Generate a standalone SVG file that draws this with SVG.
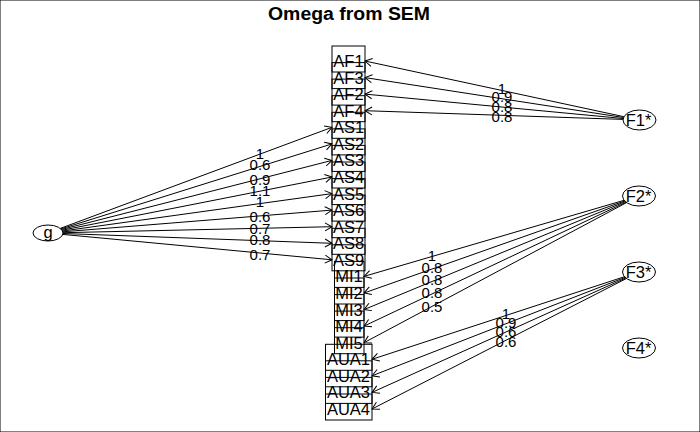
<svg xmlns="http://www.w3.org/2000/svg" width="700" height="432" viewBox="0 0 700 432">
<style>
text{font-family:"Liberation Sans",Arial,sans-serif;fill:#000}
.t{font-size:18px;font-weight:bold}
.n{font-size:16.5px;text-anchor:middle}
.l{font-size:15px;text-anchor:middle}
rect,ellipse{fill:none;stroke:#000;stroke-width:1}
line{stroke:#000;stroke-width:1;marker-end:url(#a)}
</style>
<defs>
<marker id="a" markerUnits="userSpaceOnUse" markerWidth="10" markerHeight="10" viewBox="0 0 10 10" refX="8" refY="5" orient="auto">
<path d="M1,1 L8,5 L1,9" fill="none" stroke="#000" stroke-width="1"/>
</marker>
</defs>
<rect x="0" y="0" width="700" height="432" fill="#fff" stroke="none"/>
<text class="t" x="349" y="19.5" text-anchor="middle" textLength="162" lengthAdjust="spacingAndGlyphs">Omega from SEM</text>

<g id="AF1"><rect x="332" y="46" width="33" height="26"/><text class="n" x="348.5" y="67">AF1</text></g>
<g id="AF3"><rect x="332" y="62.6" width="33" height="26"/><text class="n" x="348.5" y="83.6">AF3</text></g>
<g id="AF2"><rect x="332" y="79.1" width="33" height="26"/><text class="n" x="348.5" y="100.1">AF2</text></g>
<g id="AF4"><rect x="332" y="95.7" width="33" height="26"/><text class="n" x="348.5" y="116.7">AF4</text></g>
<g id="AS1"><rect x="332" y="112.3" width="33" height="26"/><text class="n" x="348.5" y="133.3">AS1</text></g>
<g id="AS2"><rect x="332" y="128.9" width="33" height="26"/><text class="n" x="348.5" y="149.9">AS2</text></g>
<g id="AS3"><rect x="332" y="145.4" width="33" height="26"/><text class="n" x="348.5" y="166.4">AS3</text></g>
<g id="AS4"><rect x="332" y="162" width="33" height="26"/><text class="n" x="348.5" y="183">AS4</text></g>
<g id="AS5"><rect x="332" y="178.6" width="33" height="26"/><text class="n" x="348.5" y="199.6">AS5</text></g>
<g id="AS6"><rect x="332" y="195.1" width="33" height="26"/><text class="n" x="348.5" y="216.1">AS6</text></g>
<g id="AS7"><rect x="332" y="211.7" width="33" height="26"/><text class="n" x="348.5" y="232.7">AS7</text></g>
<g id="AS8"><rect x="332" y="228.3" width="33" height="26"/><text class="n" x="348.5" y="249.3">AS8</text></g>
<g id="AS9"><rect x="332" y="244.8" width="33" height="26"/><text class="n" x="348.5" y="265.8">AS9</text></g>
<g id="MI1"><rect x="334.5" y="261.4" width="29.5" height="26"/><text class="n" x="349" y="282.4">MI1</text></g>
<g id="MI2"><rect x="334.5" y="278" width="29.5" height="26"/><text class="n" x="349" y="299">MI2</text></g>
<g id="MI3"><rect x="334.5" y="294.6" width="29.5" height="26"/><text class="n" x="349" y="315.6">MI3</text></g>
<g id="MI4"><rect x="334.5" y="311.1" width="29.5" height="26"/><text class="n" x="349" y="332.1">MI4</text></g>
<g id="MI5"><rect x="334.5" y="327.7" width="29.5" height="26"/><text class="n" x="349" y="348.7">MI5</text></g>
<g id="AUA1"><rect x="325.5" y="344.3" width="46.5" height="26"/><text class="n" x="348.5" y="365.3">AUA1</text></g>
<g id="AUA2"><rect x="325.5" y="360.8" width="46.5" height="26"/><text class="n" x="348.5" y="381.8">AUA2</text></g>
<g id="AUA3"><rect x="325.5" y="377.4" width="46.5" height="26"/><text class="n" x="348.5" y="398.4">AUA3</text></g>
<g id="AUA4"><rect x="325.5" y="394" width="46.5" height="26"/><text class="n" x="348.5" y="415">AUA4</text></g>

<g id="g"><ellipse cx="48" cy="233" rx="15" ry="8"/><text class="n" x="48" y="237.5">g</text></g>
<g id="F1"><ellipse cx="639.5" cy="120" rx="16.5" ry="10"/><text class="n" x="638.5" y="126">F1*</text></g>
<g id="F2"><ellipse cx="639" cy="196" rx="16.5" ry="10"/><text class="n" x="638.5" y="202">F2*</text></g>
<g id="F3"><ellipse cx="639" cy="272" rx="16.5" ry="10"/><text class="n" x="638.5" y="278">F3*</text></g>
<g id="F4"><ellipse cx="639" cy="348" rx="16.5" ry="10"/><text class="n" x="638.5" y="354">F4*</text></g>

<g id="connectors">
<line x1="623.9" y1="116.7" x2="365" y2="61"/>
<line x1="623.5" y1="117.5" x2="365" y2="77.6"/>
<line x1="623.2" y1="118.5" x2="365" y2="94.1"/>
<line x1="623" y1="119.4" x2="365" y2="110.7"/>
<line x1="60.3" y1="228.4" x2="332" y2="127.3"/>
<line x1="60.9" y1="228.9" x2="332" y2="143.9"/>
<line x1="61.5" y1="229.5" x2="332" y2="160.4"/>
<line x1="62.1" y1="230.2" x2="332" y2="177"/>
<line x1="62.5" y1="231" x2="332" y2="193.6"/>
<line x1="62.8" y1="231.8" x2="332" y2="210.1"/>
<line x1="63" y1="232.7" x2="332" y2="226.7"/>
<line x1="63" y1="233.5" x2="332" y2="243.3"/>
<line x1="62.8" y1="234.4" x2="332" y2="259.8"/>
<line x1="624.1" y1="200.3" x2="364" y2="276.4"/>
<line x1="624.7" y1="201" x2="364" y2="293"/>
<line x1="625.4" y1="201.6" x2="364" y2="309.6"/>
<line x1="626" y1="202.2" x2="364" y2="326.1"/>
<line x1="626.6" y1="202.6" x2="364" y2="342.7"/>
<line x1="624.5" y1="276.7" x2="372" y2="359.3"/>
<line x1="625.1" y1="277.4" x2="372" y2="375.8"/>
<line x1="625.8" y1="278" x2="372" y2="392.4"/>
<line x1="626.4" y1="278.5" x2="372" y2="409"/>
<text class="l" x="502" y="93.5">1</text>
<text class="l" x="502" y="102">0.9</text>
<text class="l" x="502" y="111.5">0.8</text>
<text class="l" x="502" y="121.5">0.8</text>
<text class="l" x="260" y="158.5">1</text>
<text class="l" x="260" y="170">0.6</text>
<text class="l" x="260" y="184.5">0.9</text>
<text class="l" x="260" y="195.5">1.1</text>
<text class="l" x="260" y="206.5">1</text>
<text class="l" x="260" y="222">0.6</text>
<text class="l" x="260" y="233.5">0.7</text>
<text class="l" x="260" y="245">0.8</text>
<text class="l" x="260" y="259.5">0.7</text>
<text class="l" x="432" y="261">1</text>
<text class="l" x="432" y="272.5">0.8</text>
<text class="l" x="432" y="285">0.8</text>
<text class="l" x="432" y="298">0.8</text>
<text class="l" x="432" y="311.5">0.5</text>
<text class="l" x="506" y="318.5">1</text>
<text class="l" x="506" y="327.5">0.9</text>
<text class="l" x="506" y="337">0.6</text>
<text class="l" x="506" y="347">0.6</text>
</g>
</svg>
